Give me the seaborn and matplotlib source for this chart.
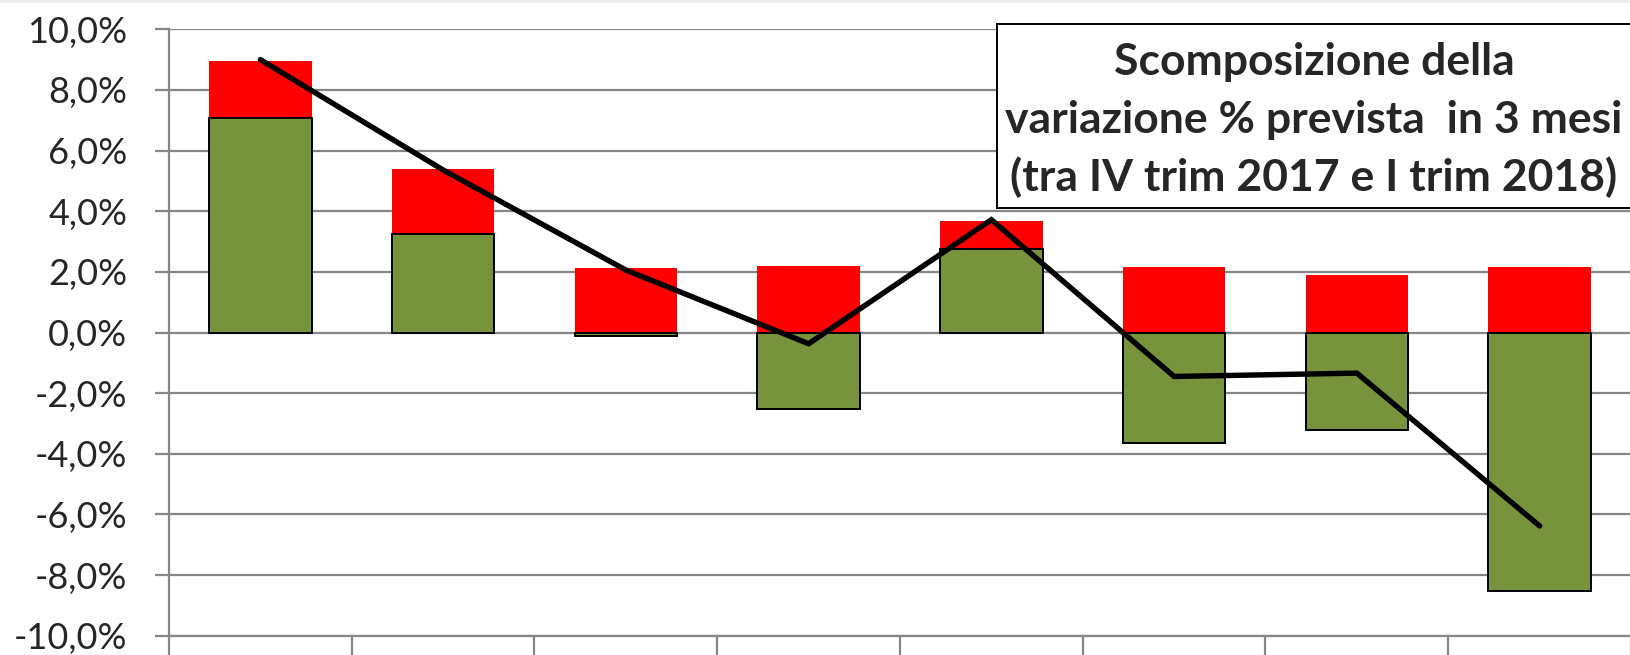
import matplotlib
matplotlib.use("Agg")
import matplotlib.pyplot as plt
from matplotlib.patches import Rectangle
from matplotlib.ticker import FuncFormatter
import seaborn as sns
import numpy as np
import pandas as pd

# values (percent)
categories = ["1", "2", "3", "4", "5", "6", "7", "8"]
green_part = [7.08, 3.26, -0.10, -2.53, 2.77, -3.63, -3.23, -8.54]
red_part = [1.89, 2.12, 2.14, 2.18, 0.92, 2.16, 1.88, 2.15]
total_line = [9.0, 5.36, 2.06, -0.37, 3.72, -1.45, -1.34, -6.38]
y_ticks = [-10, -8, -6, -4, -2, 0, 2, 4, 6, 8, 10]
title_lines = ["Scomposizione della",
               "variazione % prevista  in 3 mesi",
               "(tra IV trim 2017 e I trim 2018)"]

sns.set_style("white")
plt.rcParams['font.family'] = ['Lato', 'DejaVu Sans']

# red sits on top of positive green, starts from zero otherwise
red_top = np.maximum(np.array(green_part), 0) + np.array(red_part)
df = pd.DataFrame({"cat": categories, "green": green_part, "red_top": red_top})

fig = plt.figure(figsize=(16.31, 6.55), dpi=100)
ax = fig.add_axes([169 / 1631, 19.3 / 655, 1 - 169 / 1631, 606.4 / 655])

grid_col = "#868686"
for t in y_ticks:
    ax.axhline(t, color=grid_col, lw=1.6, zorder=0)

sns.barplot(data=df, x="cat", y="red_top", color="#FF0000", width=0.56,
            saturation=1, edgecolor="none", ax=ax, zorder=2)
sns.barplot(data=df, x="cat", y="green", color="#77933C", width=0.56,
            saturation=1, edgecolor="black", linewidth=1.4, ax=ax, zorder=3)
sns.lineplot(x=np.arange(len(categories)), y=total_line, color="black",
             lw=3.9, solid_capstyle="round", solid_joinstyle="miter",
             ax=ax, zorder=4)

ax.set_ylim(-10, 10)
ax.set_xlim(-0.5, len(categories) - 0.5)
ax.set_yticks(y_ticks)
ax.yaxis.set_major_formatter(FuncFormatter(lambda v, p: f"{v:.1f}%".replace(".", ",")))
ax.set_xticks(np.arange(len(categories) + 1) - 0.5)
ax.set_xticklabels([])
ax.set_xlabel("")
ax.set_ylabel("")
ax.tick_params(axis="y", labelsize=26, length=10, width=1.6, color=grid_col,
               pad=20, direction="out", left=True)
ax.tick_params(axis="x", length=16, width=1.6, color=grid_col, direction="out", bottom=True)
for s in ["top", "right"]:
    ax.spines[s].set_visible(False)
for s in ["left", "bottom"]:
    ax.spines[s].set_color(grid_col)
    ax.spines[s].set_linewidth(1.6)

# title box, running off the right edge
fig.patches.append(Rectangle((996.7 / 1631, (655 - 208) / 655), 0.45, 183.7 / 655,
                             transform=fig.transFigure, facecolor="white",
                             edgecolor="black", lw=1.4, zorder=5))
baselines = [75, 133, 191]
for txt, b in zip(title_lines, baselines):
    fig.text(1314 / 1631, 1 - b / 655, txt, ha="center", va="baseline",
             fontsize=32, fontweight="bold", zorder=6)

# thin grey strip at the top of the image
fig.patches.append(Rectangle((0, 1 - 3 / 655), 1, 3 / 655, transform=fig.transFigure,
                             facecolor="#F0F0F0", edgecolor="none", zorder=7))

fig.savefig("out.png", dpi=100)
